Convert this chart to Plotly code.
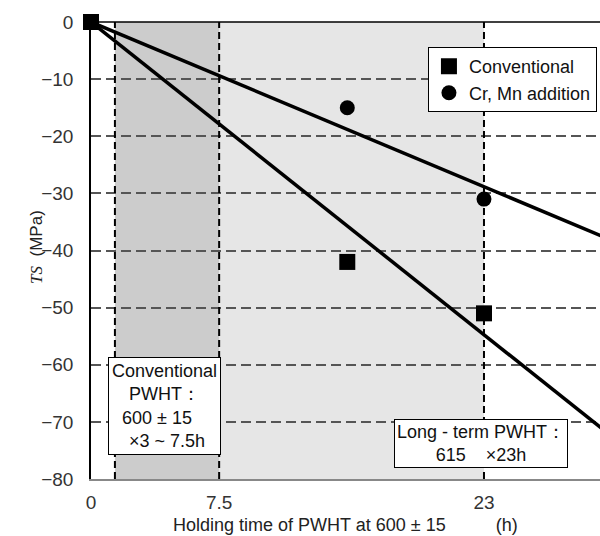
import plotly.graph_objects as go

# ---- data ----
time_conv = [0, 15, 23]
ts_conv = [0, -42, -51]
time_crmn = [15, 23]
ts_crmn = [-15, -31]

fit_x = [0, 30]
fit_conv = [0, -71.4]
fit_crmn = [0, -37.6]

dark_band = [1.4, 7.5]     # conventional PWHT window
light_band = [7.5, 23]     # long-term PWHT window

x_ticks = [0, 7.5, 23]
x_ticklabels = ["0", "7.5", "23"]
y_ticks = [0, -10, -20, -30, -40, -50, -60, -70, -80]

x_range = [0, 29.79]
y_range = [-80, 0]

FONT = "Liberation Sans, Arial, sans-serif"

fig = go.Figure()

# fitted lines
fig.add_trace(go.Scatter(x=fit_x, y=fit_conv, mode="lines",
                         line=dict(color="black", width=3.5),
                         showlegend=False, hoverinfo="skip"))
fig.add_trace(go.Scatter(x=fit_x, y=fit_crmn, mode="lines",
                         line=dict(color="black", width=3.5),
                         showlegend=False, hoverinfo="skip"))
# data points
fig.add_trace(go.Scatter(x=time_crmn, y=ts_crmn, mode="markers", name="Cr, Mn addition",
                         marker=dict(symbol="circle", size=15, color="black"),
                         cliponaxis=False, legendrank=2))
fig.add_trace(go.Scatter(x=time_conv, y=ts_conv, mode="markers", name="Conventional",
                         marker=dict(symbol="square", size=16, color="black"),
                         cliponaxis=False, legendrank=1))

shapes = []
# shaded bands
shapes.append(dict(type="rect", xref="x", yref="y", x0=dark_band[0], x1=dark_band[1],
                   y0=y_range[0], y1=y_range[1], fillcolor="#cccccc",
                   line=dict(width=0), layer="below"))
shapes.append(dict(type="rect", xref="x", yref="y", x0=light_band[0], x1=light_band[1],
                   y0=y_range[0], y1=y_range[1], fillcolor="#e6e6e6",
                   line=dict(width=0), layer="below"))
# vertical dashed boundaries
for xv in sorted(set(dark_band + light_band)):
    shapes.append(dict(type="line", xref="x", yref="y", x0=xv, x1=xv,
                       y0=y_range[0], y1=y_range[1],
                       line=dict(color="black", width=2, dash="7px,4px"), layer="above"))
# top frame line
shapes.append(dict(type="line", xref="paper", yref="paper", x0=0, x1=1, y0=1, y1=1,
                   line=dict(color="black", width=1.5)))
fig.update_layout(shapes=shapes)

annotations = []
annotations.append(dict(
    x=4.33, y=-67.2, xref="x", yref="y", showarrow=False,
    text="Conventional<br>PWHT：<br>600 ± 15&nbsp;&nbsp;&nbsp;<br>&nbsp;×3 ~ 7.5h",
    align="center", font=dict(family=FONT, size=18, color="#111"),
    bgcolor="white", bordercolor="black", borderwidth=1, borderpad=3))
annotations.append(dict(
    x=22.8, y=-73.7, xref="x", yref="y", showarrow=False,
    text="Long - term PWHT：<br>615&nbsp;&nbsp;&nbsp;&nbsp;×23h",
    align="center", font=dict(family=FONT, size=18, color="#111"),
    bgcolor="white", bordercolor="black", borderwidth=1, borderpad=2))
# axis titles
annotations.append(dict(
    x=0.5, y=-0.1, xref="paper", yref="paper", showarrow=False,
    xanchor="center", yanchor="middle",
    text="Holding time of PWHT at 600 ± 15&nbsp;&nbsp;&nbsp;&nbsp;&nbsp;&nbsp;&nbsp;&nbsp;&nbsp;&nbsp;(h)",
    font=dict(family=FONT, size=18, color="#222")))
annotations.append(dict(
    x=-0.106, y=0.508, xref="paper", yref="paper", showarrow=False,
    xanchor="center", yanchor="middle", textangle=-90,
    text="<span style='font-family:Liberation Serif, Times New Roman, serif'><i>TS</i></span>&nbsp;&nbsp;(MPa)",
    font=dict(family=FONT, size=17, color="#222")))
fig.update_layout(annotations=annotations)

fig.update_layout(
    width=600, height=536,
    margin=dict(l=91, r=0, t=22, b=57),
    paper_bgcolor="white", plot_bgcolor="white",
    showlegend=True,
    legend=dict(x=0.994, xanchor="right", y=0.945, yanchor="top",
                bgcolor="white", bordercolor="black", borderwidth=1,
                font=dict(family=FONT, size=18, color="#111"),
                itemsizing="trace", itemwidth=30, tracegroupgap=0),
    font=dict(family=FONT, size=19, color="#333"),
    xaxis=dict(range=x_range, tickmode="array", tickvals=x_ticks, ticktext=x_ticklabels,
               showgrid=False, zeroline=False, showline=True, linecolor="#888", linewidth=1.5,
               ticks="", ticklabelstandoff=5, tickfont=dict(size=19, color="#333")),
    yaxis=dict(range=y_range, tickmode="array", tickvals=y_ticks,
               showgrid=True, gridcolor="#555", gridwidth=1.5, griddash="10px,5px",
               zeroline=False, showline=True, linecolor="black", linewidth=1.5,
               ticks="", ticklabelstandoff=12, tickfont=dict(size=19, color="#333")),
)

fig.write_html("out.html", config={"displayModeBar": False},
               post_script="document.body.style.margin='0';document.body.style.overflow='hidden';")
